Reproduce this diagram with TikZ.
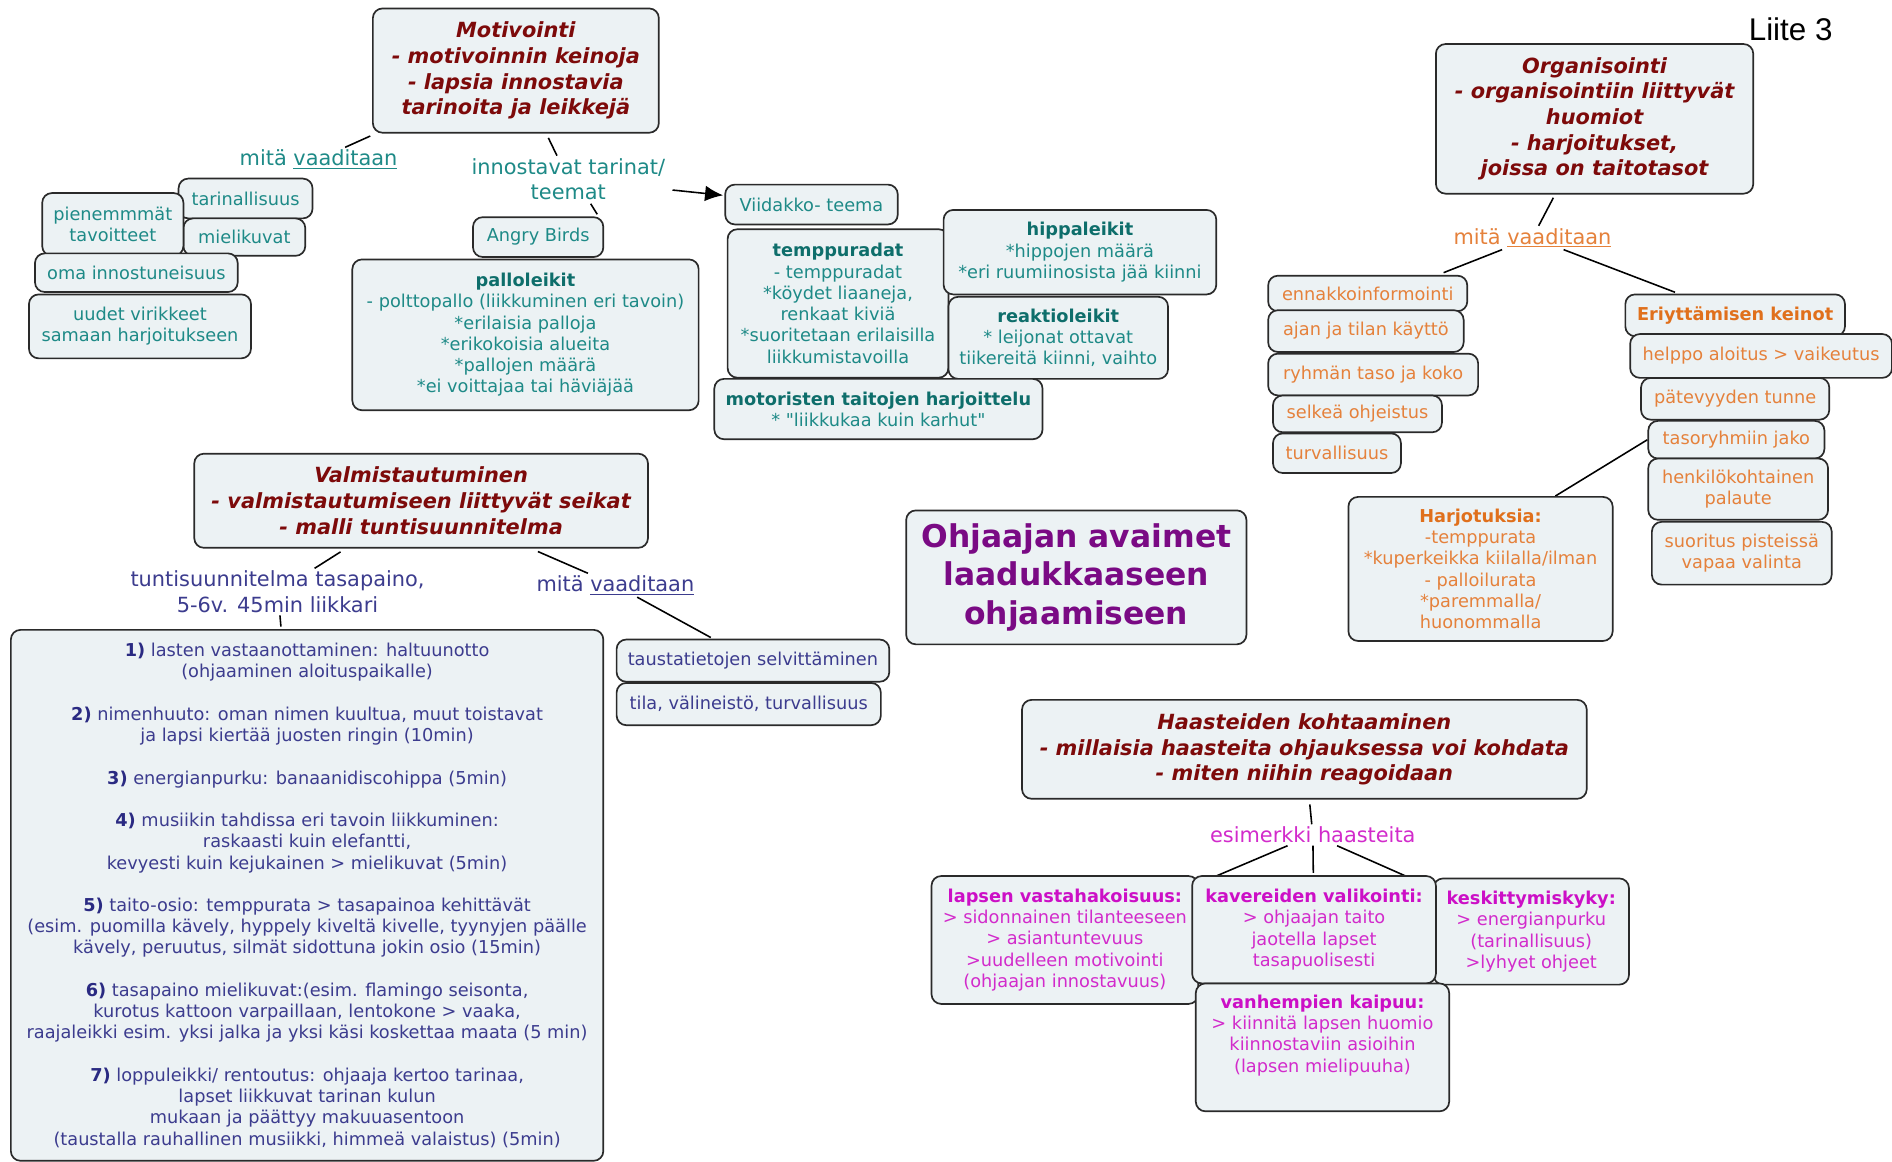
\documentclass[tikz,border=0pt]{standalone}
\usepackage{fontspec}
\setmainfont{DejaVu Sans}[Ligatures=TeXOff]
\newfontfamily\liitefont{Liberation Sans}
\usetikzlibrary{arrows.meta}
\pgfdeclarelayer{back}
\pgfdeclarelayer{bg}
\pgfsetlayers{back,bg,main}
\definecolor{boxf}{HTML}{ECF2F4}
\definecolor{bordc}{HTML}{2A2A2A}
\definecolor{tl}{HTML}{1E8A87}
\definecolor{tld}{HTML}{0E6E6B}
\definecolor{dred}{HTML}{7D0A0A}
\definecolor{orn}{HTML}{E5813B}
\definecolor{ornd}{HTML}{E0701C}
\definecolor{blu}{HTML}{3C3C8E}
\definecolor{blud}{HTML}{2A2A82}
\definecolor{mag}{HTML}{D22BCB}
\definecolor{magd}{HTML}{CC0FC6}
\definecolor{purp}{HTML}{7A0A84}
\newcommand\fsm{\fontsize{14.7}{17.6}\selectfont}
\newcommand\flb{\fontsize{17.3}{21.2}\selectfont}
\newcommand\fti{\fontsize{17.3}{21.3}\selectfont\bfseries\itshape}
\tikzset{
  bx/.style={draw=bordc, fill=boxf, rounded corners=8pt, line width=1.4pt, inner sep=0pt, align=center, font=\fsm},
  lbl/.style={inner sep=2pt, align=center, font=\flb},
  ttl/.style={bx, font=\fti, text=dred},
  cn/.style={line width=1.3pt, draw=black},
}
\begin{document}
\begin{tikzpicture}[x=1pt,y=-1pt]
\begin{pgfonlayer}{back}
\fill[white] (0,0) rectangle (1568,963);
\end{pgfonlayer}
\useasboundingbox (0,0) rectangle (1568,963);

% ---------- Motivointi ----------
\node[ttl, minimum width=237, minimum height=103] (motiv) at (427.5,58.5)
  {Motivointi\\- motivoinnin keinoja\\- lapsia innostavia\\tarinoita ja leikkejä};
\node[lbl, text=tl] (mitaT) at (264,132) {mitä \underline{vaaditaan}};
\node[lbl, text=tl] (innost) at (471,148.5) {innostavat tarinat/\\teemat};

\begin{scope}[every node/.style={bx, text=tl}]
\node[minimum width=111, minimum height=33] (tar) at (203.5,164.5) {tarinallisuus};
\node[minimum width=101, minimum height=31] (miel) at (202.5,196.5) {mielikuvat};
\node[minimum width=117, minimum height=52] (pien) at (93.5,186) {pienemmmät\\tavoitteet};
\node[minimum width=168, minimum height=32] (oma) at (113,226) {oma innostuneisuus};
\node[minimum width=184, minimum height=53] (uud) at (116,270.5) {uudet virikkeet\\samaan harjoitukseen};
\node[minimum width=108, minimum height=33] (angry) at (446,196.5) {Angry Birds};
\node[minimum width=287, minimum height=125] (pallo) at (435.5,277.5)
  {{\color{tld}\bfseries palloleikit}\\- polttopallo (liikkuminen eri tavoin)\\*erilaisia palloja\\*erikokoisia alueita\\*pallojen määrä\\*ei voittajaa tai häviäjää};
\node[minimum width=143, minimum height=33] (viid) at (672.5,169.5) {Viidakko- teema};
\node[minimum width=183, minimum height=123] (temp) at (694.5,251.5)
  {{\color{tld}\bfseries temppuradat}\\- temppuradat\\*köydet liaaneja,\\renkaat kiviä\\*suoritetaan erilaisilla\\liikkumistavoilla};
\node[minimum width=182, minimum height=68] (reak) at (877,280)
  {{\color{tld}\bfseries reaktioleikit}\\* leijonat ottavat\\tiikereitä kiinni, vaihto};
\node[minimum width=226, minimum height=70] (hipp) at (895,209)
  {{\color{tld}\bfseries hippaleikit}\\*hippojen määrä\\*eri ruumiinosista jää kiinni};
\node[minimum width=272, minimum height=50] (moto) at (728,339)
  {{\color{tld}\bfseries motoristen taitojen harjoittelu}\\* "liikkukaa kuin karhut"};
\end{scope}

% ---------- Organisointi ----------
\node[ttl, minimum width=263, minimum height=124] (org) at (1321.5,98.5)
  {Organisointi\\- organisointiin liittyvät\\huomiot\\- harjoitukset,\\joissa on taitotasot};
\node[lbl, text=orn] (mitaO) at (1270,197) {mitä \underline{vaaditaan}};
\begin{scope}[every node/.style={bx, text=orn}]
\node[minimum width=165, minimum height=29.4] (enn) at (1133.5,243.2) {ennakkoinformointi};
\node[minimum width=162, minimum height=34.6] (ajan) at (1132,274.4) {ajan ja tilan käyttö};
\node[minimum width=174, minimum height=34.6] (ryh) at (1138,310.4) {ryhmän taso ja koko};
\node[minimum width=140, minimum height=30.5] (selk) at (1125,343) {selkeä ohjeistus};
\node[minimum width=106, minimum height=32.8] (turv) at (1108,375.6) {turvallisuus};
\node[minimum width=182, minimum height=34.6, text=ornd, font=\fsm\bfseries] (erit) at (1438,261.3) {Eriyttämisen keinot};
\node[minimum width=217, minimum height=36.3] (help) at (1459.5,295) {helppo aloitus > vaikeutus};
\node[minimum width=156, minimum height=34.6] (pate) at (1438,330.5) {pätevyyden tunne};
\node[minimum width=146, minimum height=31.2] (taso) at (1439,364.4) {tasoryhmiin jako};
\node[minimum width=149, minimum height=50.8] (henk) at (1440.5,405.4) {henkilökohtainen\\palaute};
\node[minimum width=149, minimum height=52] (suor) at (1443.5,458.5) {suoritus pisteissä\\vapaa valinta};
\node[minimum width=219, minimum height=119.4] (harj) at (1227,471.5)
  {{\color{ornd}\bfseries Harjotuksia:}\\-temppurata\\*kuperkeikka kiilalla/ilman\\- palloilurata\\*paremmalla/\\huonommalla};
\end{scope}

\node[inner sep=0pt, font=\liitefont\fontsize{26}{30}\selectfont] (liite) at (1484,24) {Liite 3};

% ---------- Valmistautuminen ----------
\node[ttl, minimum width=376, minimum height=78] (valm) at (349,415)
  {Valmistautuminen\\- valmistautumiseen liittyvät seikat\\- malli tuntisuunnitelma};
\node[lbl, text=blu] (tunti) at (230,490.5) {tuntisuunnitelma tasapaino,\\5-6v. 45min liikkari};
\node[lbl, text=blu] (mitaB) at (510,485) {mitä \underline{vaaditaan}};
\begin{scope}[every node/.style={bx, text=blu}]
\node[minimum width=226, minimum height=35] (taus) at (624,547.5) {taustatietojen selvittäminen};
\node[minimum width=219, minimum height=35] (tila) at (620.5,583.5) {tila, välineistö, turvallisuus};
\node[minimum width=491, minimum height=440] (plan) at (254.5,742)
  {{\color{blud}\bfseries 1)} lasten vastaanottaminen: haltuunotto\\(ohjaaminen aloituspaikalle)\\[17.6pt]
   {\color{blud}\bfseries 2)} nimenhuuto: oman nimen kuultua, muut toistavat\\ja lapsi kiertää juosten ringin (10min)\\[17.6pt]
   {\color{blud}\bfseries 3)} energianpurku: banaanidiscohippa (5min)\\[17.6pt]
   {\color{blud}\bfseries 4)} musiikin tahdissa eri tavoin liikkuminen:\\raskaasti kuin elefantti,\\kevyesti kuin kejukainen > mielikuvat (5min)\\[17.6pt]
   {\color{blud}\bfseries 5)} taito-osio: temppurata > tasapainoa kehittävät\\(esim. puomilla kävely, hyppely kiveltä kivelle, tyynyjen päälle\\kävely, peruutus, silmät sidottuna jokin osio (15min)\\[17.6pt]
   {\color{blud}\bfseries 6)} tasapaino mielikuvat:(esim. flamingo seisonta,\\kurotus kattoon varpaillaan, lentokone > vaaka,\\raajaleikki esim. yksi jalka ja yksi käsi koskettaa maata (5 min)\\[17.6pt]
   {\color{blud}\bfseries 7)} loppuleikki/ rentoutus: ohjaaja kertoo tarinaa,\\lapset liikkuvat tarinan kulun\\mukaan ja päättyy makuuasentoon\\(taustalla rauhallinen musiikki, himmeä valaistus) (5min)};
\end{scope}

% ---------- Center ----------
\node[bx, minimum width=282, minimum height=111, text=purp, font=\fontsize{26}{32}\selectfont\bfseries] (cen) at (892,478.5)
  {Ohjaajan avaimet\\laadukkaaseen\\ohjaamiseen};

% ---------- Haasteiden ----------
\node[ttl, minimum width=468, minimum height=82] (haast) at (1081,621)
  {Haasteiden kohtaaminen\\- millaisia haasteita ohjauksessa voi kohdata\\- miten niihin reagoidaan};
\node[lbl, text=mag] (esim) at (1088,692) {esimerkki haasteita};
\begin{scope}[every node/.style={bx, text=mag}]
\node[minimum width=221, minimum height=106] (laps) at (882.5,779)
  {{\color{magd}\bfseries lapsen vastahakoisuus:}\\> sidonnainen tilanteeseen\\> asiantuntevuus\\>uudelleen motivointi\\(ohjaajan innostavuus)};
\node[minimum width=162, minimum height=88] (kesk) at (1269,772)
  {{\color{magd}\bfseries keskittymiskyky:}\\> energianpurku\\(tarinallisuus)\\>lyhyet ohjeet};
\node[minimum width=202, minimum height=89] (kav) at (1089,770.5)
  {{\color{magd}\bfseries kavereiden valikointi:}\\> ohjaajan taito\\jaotella lapset\\tasapuolisesti};
\node[minimum width=210, minimum height=106] (vanh) at (1096,868)
  {{\color{magd}\bfseries vanhempien kaipuu:}\\> kiinnitä lapsen huomio\\kiinnostaviin asioihin\\(lapsen mielipuuha)\\\strut};
\end{scope}

% ---------- Connectors ----------
\begin{pgfonlayer}{bg}
\draw[cn, shorten <=5] (motiv) -- (mitaT);
\draw[cn, shorten <=4] (motiv) -- (innost);
\draw[cn, -{Latex[length=15,width=13]}, shorten <=4, shorten >=1] (innost) -- (viid);
\draw[cn, shorten <=1, shorten >=2] ([xshift=18]innost.south) -- ([xshift=50]angry.north);
\draw[cn, shorten <=3] (org) -- (mitaO);
\draw[cn, shorten >=5] (mitaO) -- ([xshift=-25]enn.north east);
\draw[cn, shorten >=3] (mitaO) -- (erit);
\draw[cn] (taso.west) -- ([xshift=62]harj.north);
\draw[cn, shorten <=5] (valm) -- (tunti);
\draw[cn, shorten <=6] (valm) -- (mitaB);
\draw[cn, shorten >=2] (mitaB) -- (taus);
\draw[cn, shorten >=2] ([xshift=2]tunti.south) -- ([xshift=-21.5]plan.north);
\draw[cn, shorten <=4] (haast) -- (esim);
\draw[cn, shorten >=6] (esim) -- (laps);
\draw[cn, shorten >=2] (esim) -- (kav);
\draw[cn, shorten >=6] (esim) -- (kesk);
\end{pgfonlayer}
\end{tikzpicture}
\end{document}
